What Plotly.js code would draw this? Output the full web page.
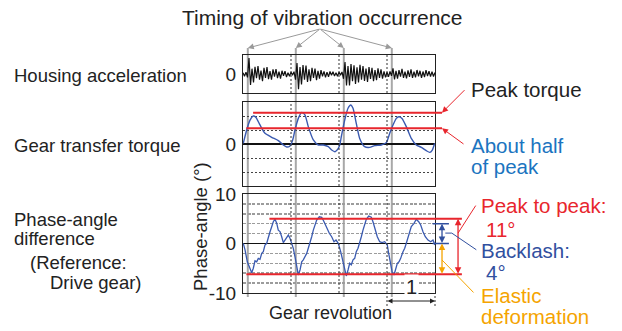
<!DOCTYPE html>
<html><head><meta charset="utf-8">
<script src="https://cdn.plot.ly/plotly-3.0.1.min.js"></script>
<style>html,body{margin:0;padding:0;background:#fff}#chart{width:622px;height:331px}</style>
</head><body><div id="chart"></div>
<script>
// ---------------- data ----------------
// x unit = gear revolutions (4 revolutions across each panel)
const accelValues = [0.06,-0.12,0.1,-0.18, 0.84,-0.58, 0.28,-0.45,0.38,-0.22,0.42,
  -0.3,0.18,-0.38,0.33,-0.2,0.36,-0.27,0.15, -0.3,0.24,-0.14,0.26,-0.22,0.12,-0.24,0.17,
  -0.1,0.15,-0.16,0.07,-0.12,0.1, -0.06,0.12, -0.3, 0.58,-0.8,
  0.36,-0.55,0.47,-0.3,0.44,-0.42,0.25,-0.38, 0.33,-0.2,0.28,-0.32,0.16,-0.24,
  0.2,-0.12,0.14,-0.18,0.1,-0.15,0.13,-0.07,0.12,-0.11, 0.06,-0.12,0.1,-0.06,0.11, -0.25,
  0.63,-0.6, 0.42,-0.6,0.52,-0.38,0.46,-0.52,0.35,-0.44,0.48,-0.3,
  0.42,-0.36,0.28,-0.42,0.36,-0.26,0.33,-0.38, 0.2,-0.32,0.3,-0.2,0.25,-0.24,0.14,-0.18,
  0.1,-0.15,0.13,-0.1, 0.3,-0.28,
  0.16,-0.24,0.2,-0.14,0.27,-0.2,0.12,-0.23,0.19,-0.15,0.24,-0.2,0.13,-0.18,0.21,-0.12,0.17,-0.2,0.13,-0.16,0.2,-0.11,0.15,-0.14,0.12,-0.13,0.08];
const accelSampleStep = 4 / 128; // revolutions per sample

const torqueX = [0.006,0.077,0.146,0.215,0.271,0.354,0.458,0.598,0.735,0.840,0.910,0.979,1.035,1.083,1.152,1.223,1.292,1.360,1.465,1.569,1.673,1.777,1.848,1.917,1.979,2.021,2.048,2.119,2.188,2.244,2.292,2.360,2.431,2.535,2.640,2.744,2.881,2.985,3.056,3.125,3.194,3.244,3.313,3.402,3.506,3.610,3.715,3.819,3.890,3.944,3.994];
const torqueY = [0.05,1.0,1.7,2.0,1.9,1.36,0.76,0.48,0.24,-0.07,-0.21,-0.14,0.29,1.0,1.83,2.26,2.07,1.24,0.29,-0.07,-0.07,-0.19,-0.43,-0.55,-0.35,0.0,0.52,1.71,2.55,2.79,2.55,1.48,0.40,-0.19,-0.24,-0.12,-0.07,0.10,0.76,1.36,1.83,1.95,1.83,1.24,0.40,-0.07,-0.24,-0.48,-0.60,-0.43,0.05];

const phaseX = [0.006,0.042,0.090,0.146,0.181,0.215,0.250,0.285,0.319,0.354,
  0.390,0.423,0.458,0.494,0.527,0.563,0.598,0.631,0.667,0.702,
  0.735,0.771,0.806,0.840,0.875,0.910,0.944,0.979,1.015,1.048,
  1.083,1.119,1.152,1.188,1.223,1.256,1.292,1.327,1.360,1.396,
  1.431,1.465,1.500,1.535,1.590,1.640,1.688,1.744,1.798,1.848,
  1.896,1.938,1.985,2.035,2.083,2.119,2.152,2.188,2.223,2.256,
  2.292,2.327,2.360,2.396,2.431,2.465,2.500,2.535,2.569,2.619,
  2.673,2.708,2.756,2.798,2.848,2.896,2.952,3.006,3.035,3.077,
  3.110,3.146,3.181,3.215,3.250,3.285,3.333,3.369,3.402,3.438,
  3.473,3.506,3.563,3.610,3.660,3.702,3.750,3.798,3.854,3.910,
  3.958,4.0];
const phaseY = [0.04,-1.3,-3.7,-5.35,-5.9,-5.0,-3.5,-3.7,-3.0,-3.2,
  -2.0,-1.65,-0.3,0.04,1.37,2.38,3.4,4.4,4.9,4.1,
  2.7,2.4,1.37,0.17,0.7,1.37,1.7,1.05,0.04,-0.97,
  -2.67,-4.7,-6.36,-5.35,-3.7,-3.3,-2.67,-2.0,-0.97,0.04,
  1.37,2.7,3.7,4.75,5.4,5.3,4.4,3.07,2.06,1.37,
  0.36,0.7,0.04,-1.65,-3.7,-5.35,-6.56,-5.35,-4.0,-4.3,
  -3.3,-3.0,-1.65,-0.97,0.04,1.37,2.7,3.74,4.9,5.55,
  5.3,4.4,2.7,1.37,0.36,0.17,0.36,-0.3,-2.0,-4.3,
  -5.9,-6.36,-5.2,-4.0,-3.7,-3.0,-1.65,-0.97,0.04,1.37,
  2.38,3.4,4.07,4.9,4.4,3.74,2.38,1.37,0.7,0.36,
  0.7,-0.3];

const revolutionMarks = [1, 2, 3];
const vibrationTimes = [0.1, 1.1, 2.1, 3.1];
const peakTorque = 2.24, halfPeakTorque = 1.12;
const phaseMax = 5, phaseMin = -6.2, backlashTop = 4, backlashBottom = 0;
const torqueTicks = [-3,-2,-1,0,1,2,3];
const torqueTickText = ['','','','0','','',''];
const phaseTicks = [-10,-8,-6,-4,-2,0,2,4,6,8,10];
const phaseTickText = ['-10','','','','','0','','','','','10'];

// ---------------- layout helpers ----------------
const W = 622, H = 331;
const px = x => x / W, py = y => 1 - y / H;
const FONT = 'Liberation Sans, Arial, Helvetica, sans-serif';
const RED = '#e8262d', BLUE_T = '#1b74c0', NAVY = '#31509f', ORANGE = '#f5a400', CURVE = '#3a5ab0', INK = '#222';
const xDom = [px(243), px(435)];
const X_RANGE = [0, 4];
// position (paper fraction) of a revolution value along the shared x axis, for callouts outside the plot area
const X = v => xDom[0] + (v - X_RANGE[0]) / (X_RANGE[1] - X_RANGE[0]) * (xDom[1] - xDom[0]);
const accelX = accelValues.map((_, i) => i * accelSampleStep);

const xBase = {domain: xDom, range: X_RANGE, showline: true, mirror: true, linecolor: INK, linewidth: 1,
  ticks: '', showticklabels: false, showgrid: false, zeroline: false, fixedrange: true};
const yBase = {showline: true, mirror: true, linecolor: INK, linewidth: 1, ticks: '', fixedrange: true,
  tickfont: {size: 19, color: INK, family: FONT}, ticklabelstandoff: 2};

const traces = [
  {x: accelX, y: accelValues, xaxis: 'x', yaxis: 'y', mode: 'lines', line: {color: '#111', width: 1.2}, hoverinfo: 'skip'},
  {x: torqueX, y: torqueY, xaxis: 'x2', yaxis: 'y2', mode: 'lines', line: {color: CURVE, width: 1.4, shape: 'spline', smoothing: 0.6}, hoverinfo: 'skip'},
  {x: phaseX, y: phaseY, xaxis: 'x3', yaxis: 'y3', mode: 'lines', line: {color: CURVE, width: 1.3}, hoverinfo: 'skip'}
];

const shapes = [];
vibrationTimes.forEach(t => shapes.push({type: 'line', xref: 'x', yref: 'paper', x0: t, x1: t, y0: py(297), y1: py(48),
  line: {color: '#a8a8a8', width: 2}, layer: 'below'}));
['', '2', '3'].forEach(s => revolutionMarks.forEach(r => shapes.push({type: 'line', xref: 'x' + s, yref: 'y' + s + ' domain',
  x0: r, x1: r, y0: 0, y1: 1, line: {color: '#333', width: 1, dash: '2px,2px'}})));
// dotted extensions for the "1 revolution" span
shapes.push({type: 'line', xref: 'paper', yref: 'paper', x0: X(3), x1: X(3), y0: py(306), y1: py(293), line: {color: '#333', width: 1, dash: '2px,2px'}});
shapes.push({type: 'line', xref: 'paper', yref: 'paper', x0: X(4), x1: X(4), y0: py(306), y1: py(293), line: {color: '#333', width: 1, dash: '2px,2px'}});

const ann = [];
const T = (text, x, y, size, color, anchor) => ann.push({text, xref: 'paper', yref: 'paper', x: px(x), y: py(y),
  xanchor: anchor || 'left', yanchor: 'middle', showarrow: false, font: {size, color, family: FONT}});
// generic arrow/line (empty text)
const A = o => ann.push(Object.assign({text: '', showarrow: true, font: {size: 1}, borderpad: 0, arrowhead: 0,
  arrowwidth: 1, arrowsize: 1, standoff: 0, startstandoff: 0}, o));

T('Timing of vibration occurrence', 180, 18, 21, INK);
vibrationTimes.forEach(t => A({xref: 'x', yref: 'paper', x: t, y: py(48), axref: 'x', ayref: 'paper', ax: 1.604, ay: py(29),
  arrowhead: 2, arrowsize: 1.2, arrowwidth: 1, arrowcolor: '#9a9a9a'}));

T('Housing acceleration', 12, 75.5, 18.5, INK);
T('Gear transfer torque', 12, 145.5, 18.5, INK);
T('Phase-angle', 12, 219, 18.5, INK);
T('difference', 12, 238, 18.5, INK);
T('(Reference:', 28, 262.5, 18.5, INK);
T('Drive gear)', 48, 282, 18.5, INK);
ann.push({text: 'Phase-angle (°)', xref: 'paper', yref: 'paper', x: px(201), y: py(227), xanchor: 'center', yanchor: 'middle',
  textangle: -90, showarrow: false, font: {size: 18.5, color: INK, family: FONT}});
ann.push({text: 'Gear revolution', xref: 'x3', yref: 'paper', x: 1.83, y: py(312.5), xanchor: 'center', yanchor: 'middle',
  showarrow: false, font: {size: 18, color: INK, family: FONT}});

// torque panel reference lines
A({xref: 'x2', yref: 'y2', x: 4.146, y: peakTorque, axref: 'x2', ayref: 'y2', ax: 0.2, ay: peakTorque, arrowwidth: 2, arrowcolor: RED});
A({xref: 'x2', yref: 'y2', x: 4.146, y: halfPeakTorque, axref: 'x2', ayref: 'y2', ax: 0.06, ay: halfPeakTorque, arrowwidth: 2, arrowcolor: RED});
A({xref: 'paper', yref: 'y2', x: X(4.146), y: peakTorque, ax: 23, ay: -23, arrowhead: 2, arrowsize: 1.2, arrowcolor: RED});
A({xref: 'paper', yref: 'y2', x: X(4.146), y: halfPeakTorque, ax: 22, ay: 16, arrowhead: 2, arrowsize: 1.2, arrowcolor: RED});
T('Peak torque', 469, 89.5, 20.5, INK);
T('About half', 469, 145, 20.5, BLUE_T);
T('of peak', 469, 166.5, 20.5, BLUE_T);

// phase panel reference lines
A({xref: 'x3', yref: 'y3', x: 4.56, y: phaseMax, axref: 'x3', ayref: 'y3', ax: 0.54, ay: phaseMax, arrowwidth: 2, arrowcolor: RED});
A({xref: 'x3', yref: 'y3', x: 4.56, y: phaseMin, axref: 'x3', ayref: 'y3', ax: 0.06, ay: phaseMin, arrowwidth: 2, arrowcolor: RED});
A({xref: 'paper', yref: 'y3', x: X(4.48), y: phaseMax, ayref: 'y3', ax: 0, ay: phaseMin, arrowside: 'end+start',
  arrowhead: 2, startarrowhead: 2, arrowwidth: 1.3, arrowcolor: RED});
A({xref: 'paper', yref: 'y3', x: X(4.48), y: 2.1, ax: 18, ay: -28, arrowcolor: RED});
A({xref: 'x3', yref: 'y3', x: 4.29, y: backlashTop, axref: 'x3', ayref: 'y3', ax: 3.94, ay: backlashTop, arrowwidth: 1.5, arrowcolor: NAVY});
A({xref: 'x3', yref: 'y3', x: 4.29, y: backlashBottom, axref: 'x3', ayref: 'y3', ax: 3.94, ay: backlashBottom, arrowwidth: 1.5, arrowcolor: NAVY});
A({xref: 'paper', yref: 'y3', x: X(4.146), y: backlashTop, ayref: 'y3', ax: 0, ay: backlashBottom, arrowside: 'end+start',
  arrowhead: 2, startarrowhead: 2, arrowwidth: 1.3, arrowcolor: NAVY});
A({xref: 'paper', yref: 'y3', x: X(4.35), y: 2.1, ax: -7, ay: 0, arrowcolor: NAVY});
A({xref: 'paper', yref: 'y3', x: X(4.35), y: 2.1, ax: 25, ay: 17, arrowcolor: NAVY});
A({xref: 'paper', yref: 'y3', x: X(4.146), y: backlashBottom, ayref: 'y3', ax: 0, ay: phaseMin, arrowside: 'end+start',
  arrowhead: 2, startarrowhead: 2, arrowwidth: 1.3, arrowcolor: ORANGE});
A({xref: 'paper', yref: 'y3', x: X(4.146), y: -3.33, ax: 32, ay: 33, arrowcolor: ORANGE});
T('Peak to peak:', 479, 205.5, 20.5, RED);
T('11°', 484, 229, 20.5, RED);
T('Backlash:', 479, 250.5, 20.5, NAVY);
T('4°', 484, 272, 20.5, NAVY);
T('Elastic', 479, 295.5, 20.5, ORANGE);
T('deformation', 479, 316, 20.5, ORANGE);

// one-revolution span
A({xref: 'x3', yref: 'paper', x: 4, y: py(301), axref: 'x3', ax: 3, ay: 0, arrowside: 'end+start',
  arrowhead: 2, startarrowhead: 2, arrowwidth: 1, arrowcolor: INK});
ann.push({text: '1', xref: 'x3', yref: 'paper', x: 3.5, y: py(287), xanchor: 'center', yanchor: 'middle', showarrow: false,
  bgcolor: '#fff', borderpad: 1, font: {size: 20, color: INK, family: FONT}});

const layout = {
  width: W, height: H, margin: {l: 0, r: 0, t: 0, b: 0}, showlegend: false,
  paper_bgcolor: '#fff', plot_bgcolor: 'rgba(0,0,0,0)', font: {family: FONT, color: INK},
  xaxis: Object.assign({}, xBase, {anchor: 'y'}),
  xaxis2: Object.assign({}, xBase, {anchor: 'y2'}),
  xaxis3: Object.assign({}, xBase, {anchor: 'y3'}),
  yaxis: Object.assign({}, yBase, {anchor: 'x', domain: [py(93), py(55)], range: [-1, 1], tickvals: [0], ticktext: ['0'],
    showgrid: false, zeroline: false}),
  yaxis2: Object.assign({}, yBase, {anchor: 'x2', domain: [py(186), py(102)], range: [-3, 3], tickvals: torqueTicks, ticktext: torqueTickText,
    showgrid: true, gridcolor: '#444', gridwidth: 1, griddash: '2px,2px', zeroline: true, zerolinecolor: '#111', zerolinewidth: 1.3}),
  yaxis3: Object.assign({}, yBase, {anchor: 'x3', domain: [py(293), py(194)], range: [-10, 10], tickvals: phaseTicks, ticktext: phaseTickText,
    showgrid: true, gridcolor: '#9c9c9c', gridwidth: 1.5, griddash: '3px,1.5px', zeroline: true, zerolinecolor: '#111', zerolinewidth: 1.3}),
  shapes: shapes, annotations: ann
};
Plotly.newPlot('chart', traces, layout, {displayModeBar: false, staticPlot: true});
</script></body></html>
